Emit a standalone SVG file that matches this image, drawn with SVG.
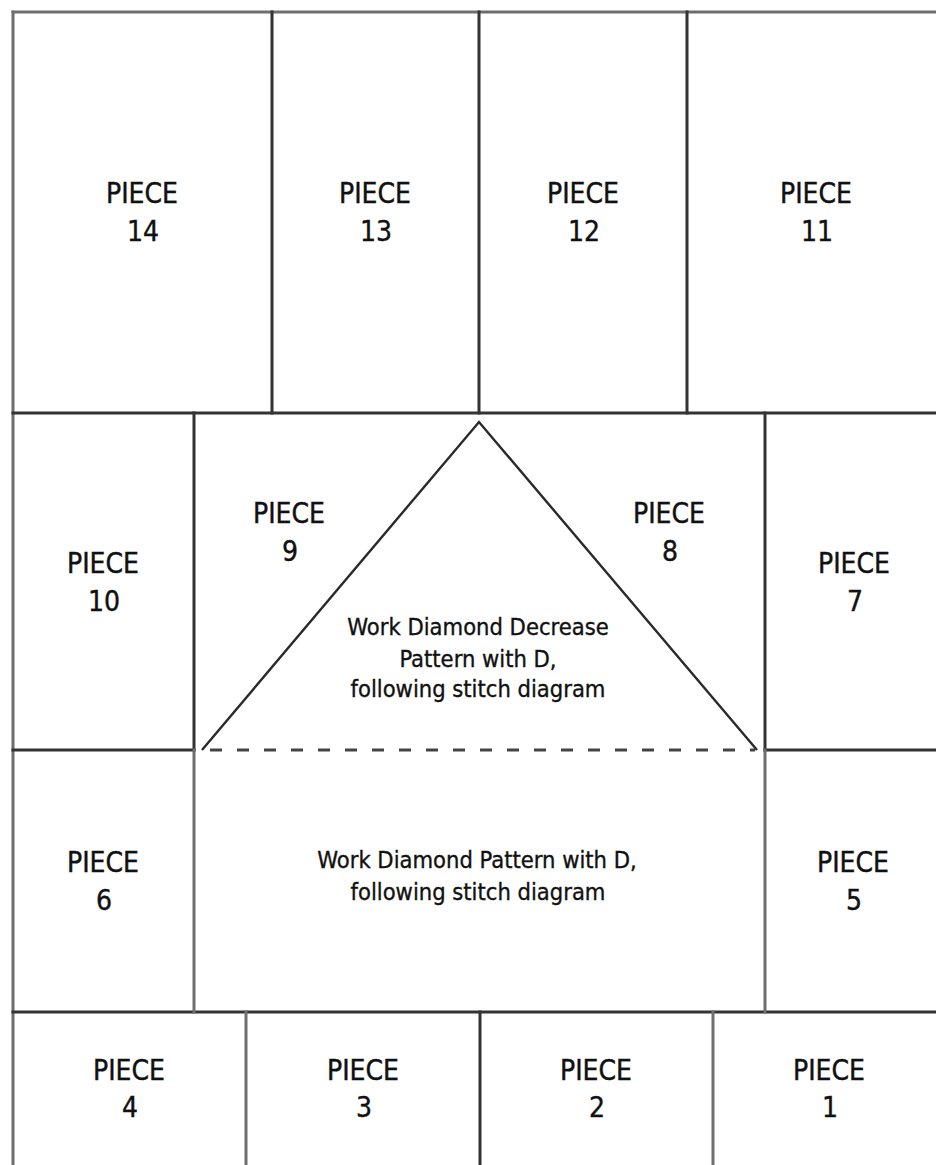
<svg xmlns="http://www.w3.org/2000/svg" width="936" height="1165" viewBox="0 0 936 1165">
  <style>
    .dk { stroke: #333; stroke-width: 3; fill: none; stroke-linecap: square; }
    .lt { stroke: #6e6e6e; stroke-width: 3; fill: none; stroke-linecap: square; }
    .tri { stroke: #2a2a2a; stroke-width: 2.4; fill: none; }
    .dash { stroke: #444; stroke-width: 3; stroke-dasharray: 12 15; fill: none; }
    .lbl { font-family: "DejaVu Sans Condensed", "DejaVu Sans", sans-serif; font-size: 28px; fill: #111; stroke: #111; stroke-width: 0.4; text-anchor: middle; }
    .note { font-family: "DejaVu Sans Condensed", "DejaVu Sans", sans-serif; font-size: 23.5px; fill: #111; stroke: #111; stroke-width: 0.35; text-anchor: middle; }
  </style>
  <rect width="936" height="1165" fill="#fff"/>

  <g id="grid">
    <!-- outer border -->
    <line class="lt" x1="13" y1="12" x2="936" y2="12"/>
    <line class="lt" x1="13" y1="12" x2="13" y2="1165"/>
    <!-- top row verticals -->
    <line class="dk" x1="272" y1="12" x2="272" y2="413"/>
    <line class="dk" x1="479" y1="12" x2="479" y2="413"/>
    <line class="dk" x1="687" y1="12" x2="687" y2="413"/>
    <!-- horizontal rows -->
    <line class="dk" x1="13" y1="413" x2="936" y2="413"/>
    <line class="dk" x1="13" y1="750" x2="194" y2="750"/>
    <line class="dk" x1="765" y1="750" x2="936" y2="750"/>
    <line class="dash" x1="210" y1="750" x2="755" y2="750"/>
    <line class="dk" x1="13" y1="1012" x2="936" y2="1012"/>
    <!-- middle row verticals -->
    <line class="dk" x1="194" y1="413" x2="194" y2="750"/>
    <line class="lt" x1="194" y1="750" x2="194" y2="1012"/>
    <line class="dk" x1="765" y1="413" x2="765" y2="750"/>
    <line class="lt" x1="765" y1="750" x2="765" y2="1012"/>
    <!-- bottom row verticals -->
    <line class="lt" x1="246" y1="1012" x2="246" y2="1165"/>
    <line class="dk" x1="480" y1="1012" x2="480" y2="1165"/>
    <line class="lt" x1="713" y1="1012" x2="713" y2="1165"/>
    <!-- triangle -->
    <polyline class="tri" points="202,750 479,422 757,750"/>
  </g>

  <g id="piece14"><text class="lbl" x="142" y="203">PIECE</text><text class="lbl" x="143" y="241">14</text></g>
  <g id="piece13"><text class="lbl" x="375" y="203">PIECE</text><text class="lbl" x="376" y="241">13</text></g>
  <g id="piece12"><text class="lbl" x="583" y="203">PIECE</text><text class="lbl" x="584" y="241">12</text></g>
  <g id="piece11"><text class="lbl" x="816" y="203">PIECE</text><text class="lbl" x="817" y="241">11</text></g>

  <g id="piece10"><text class="lbl" x="103" y="573">PIECE</text><text class="lbl" x="104" y="611">10</text></g>
  <g id="piece9"><text class="lbl" x="289" y="523">PIECE</text><text class="lbl" x="290" y="561">9</text></g>
  <g id="piece8"><text class="lbl" x="669" y="523">PIECE</text><text class="lbl" x="670" y="561">8</text></g>
  <g id="piece7"><text class="lbl" x="854" y="573">PIECE</text><text class="lbl" x="855" y="611">7</text></g>

  <g id="decrease-zone">
    <text class="note" x="478" y="635">Work Diamond Decrease</text>
    <text class="note" x="478" y="667">Pattern with D,</text>
    <text class="note" x="478" y="697">following stitch diagram</text>
  </g>

  <g id="piece6"><text class="lbl" x="103" y="872">PIECE</text><text class="lbl" x="104" y="910">6</text></g>
  <g id="diamond-zone">
    <text class="note" x="477" y="868">Work Diamond Pattern with D,</text>
    <text class="note" x="478" y="900">following stitch diagram</text>
  </g>
  <g id="piece5"><text class="lbl" x="853" y="872">PIECE</text><text class="lbl" x="854" y="910">5</text></g>

  <g id="piece4"><text class="lbl" x="129" y="1080">PIECE</text><text class="lbl" x="130" y="1117">4</text></g>
  <g id="piece3"><text class="lbl" x="363" y="1080">PIECE</text><text class="lbl" x="364" y="1117">3</text></g>
  <g id="piece2"><text class="lbl" x="596" y="1080">PIECE</text><text class="lbl" x="597" y="1117">2</text></g>
  <g id="piece1"><text class="lbl" x="829" y="1080">PIECE</text><text class="lbl" x="830" y="1117">1</text></g>
</svg>
